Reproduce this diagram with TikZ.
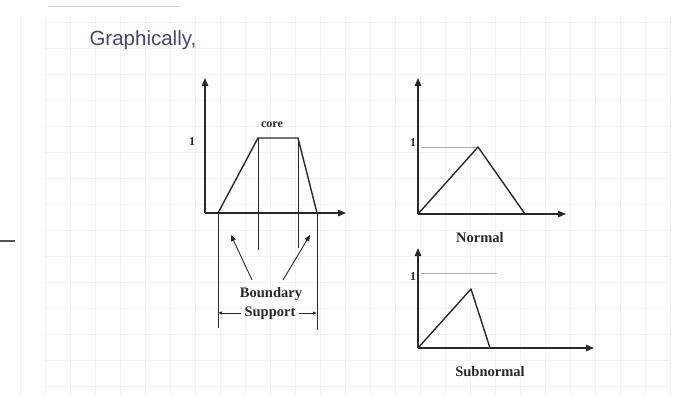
\documentclass[tikz,border=0pt]{standalone}
\usepackage{fontspec}
\setmainfont{Liberation Serif}
\newfontfamily\titlefont{Liberation Sans}
\usepackage{tikz}
\usetikzlibrary{arrows.meta, positioning}
\definecolor{titleblue}{RGB}{70,70,115}
\definecolor{ink}{RGB}{40,40,40}
\definecolor{gridgrey}{RGB}{243,243,246}
\definecolor{levelgrey}{RGB}{175,175,175}

\begin{document}
\begin{tikzpicture}[x=1pt, y=-1pt,
  axis/.style={ink, line width=1.4pt, -{Triangle[length=8pt,width=6.5pt]}},
  curve/.style={ink, line width=1.4pt, line join=round},
  guide/.style={ink, line width=0.8pt},
  pointer/.style={ink, line width=0.9pt, -{Triangle[length=6pt,width=5pt]}},
  dim/.style={ink, line width=0.8pt, -{Latex[length=4pt,width=3.5pt]}},
  level/.style={levelgrey, line width=0.9pt},
  lbl/.style={ink, font=\bfseries\fontsize{14.5}{14.5}\selectfont, inner sep=0pt},
  small/.style={lbl, font=\bfseries\fontsize{12}{12}\selectfont}]
  \useasboundingbox (0,0) rectangle (685,408);
  % faint slide grid
  \foreach \x in {20,45,...,670} \draw[gridgrey] (\x,15) -- (\x,395);
  \foreach \y in {22,48,...,395} \draw[gridgrey] (45,\y) -- (670,\y);
  \draw[levelgrey!60, line width=0.8pt] (48,6) -- (180,6);
  \draw[ink!80, line width=2pt] (0,241) -- (15,241);
  \node[anchor=west, text=titleblue, font=\titlefont\fontsize{20.5}{20.5}\selectfont] (title) at (86,40) {Graphically,};

  % left: trapezoid
  \coordinate (oA) at (205,213);
  \coordinate (yA) at (205,78);
  \coordinate (xA) at (346,213);
  \coordinate (a) at (218,213);
  \coordinate (b) at (258,138);
  \coordinate (c) at (298,138);
  \coordinate (d) at (317,213);
  \draw[axis] (oA) -- (yA);
  \draw[axis] (oA) -- (xA);
  \draw[curve] (a) -- (b) -- (c) -- (d);
  \node[small] (core) at (272,125) {core};
  \node[small] (oneA) at (192,142) {1};
  \coordinate (aLow) at (218,328);
  \coordinate (dLow) at (317,330);
  \coordinate (bLow) at (258,250);
  \coordinate (cLow) at (298,248);
  \draw[guide] (a) -- (aLow);
  \draw[guide] (d) -- (dLow);
  \draw[guide] (b) -- (bLow);
  \draw[guide] (c) -- (cLow);
  \node[lbl] (bnd) at (271,294) {Boundary};
  \node[lbl] (sup) at (270,313) {Support};
  \coordinate (bndL) at (252,280);
  \coordinate (bndR) at (283,280);
  \coordinate (tipL) at (231,235);
  \coordinate (tipR) at (310,235);
  \draw[pointer] (bndL) -- (tipL);
  \draw[pointer] (bndR) -- (tipR);
  \coordinate (supL) at (218,313);
  \coordinate (supR) at (317,313);
  \draw[dim] ([xshift=-3pt]sup.west) -- (supL);
  \draw[dim] ([xshift=3pt]sup.east) -- (supR);

  % right top: normal
  \coordinate (oN) at (418,214);
  \coordinate (yN) at (418,78);
  \coordinate (xN) at (566,214);
  \coordinate (pN) at (478,147);
  \coordinate (eN) at (525,214);
  \coordinate (lN) at (421,147);
  \draw[level] (lN) -- (pN);
  \draw[axis] (oN) -- (yN);
  \draw[axis] (oN) -- (xN);
  \draw[curve] (oN) -- (pN) -- (eN);
  \node[small] (oneN) at (413,143) {1};
  \node[lbl] (nrm) at (480,238) {Normal};

  % right bottom: subnormal
  \coordinate (oS) at (418,348);
  \coordinate (yS) at (418,248);
  \coordinate (xS) at (594,348);
  \coordinate (pS) at (471,289);
  \coordinate (eS) at (490,348);
  \coordinate (lS) at (421,273);
  \coordinate (lSe) at (497,273);
  \draw[level] (lS) -- (lSe);
  \draw[axis] (oS) -- (yS);
  \draw[axis] (oS) -- (xS);
  \draw[curve] (oS) -- (pS) -- (eS);
  \node[small] (oneS) at (413,277) {1};
  \node[lbl] (subn) at (490,372) {Subnormal};
\end{tikzpicture}
\end{document}
